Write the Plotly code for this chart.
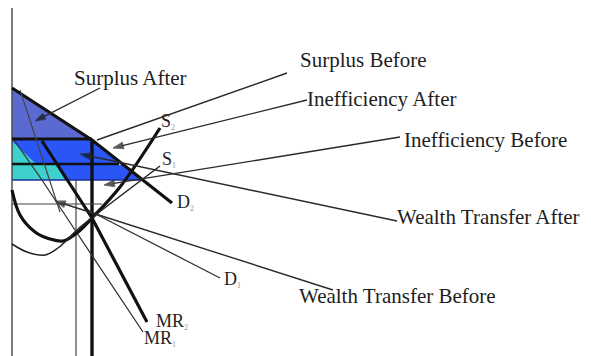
import plotly.graph_objects as go

# Diagram coordinates in pixels
# (x to the right, y downward; the y axis is reversed below).

W, H = 591, 356
PAGE_PAD = 8  # body margin of the html page

# shaded areas
SURPLUS_AFTER_X = [12, 12, 89]
SURPLUS_AFTER_Y = [88, 138, 138]
BAND1_BLUE_X = [12, 92, 121, 12]
BAND1_BLUE_Y = [140, 140, 163, 163]
BAND1_CYAN_X = [12, 35, 12]
BAND1_CYAN_Y = [141, 163, 163]
BAND2_BLUE_X = [12, 124, 142, 12]
BAND2_BLUE_Y = [165, 165, 180, 180]
BAND2_CYAN_X = [12, 56, 65, 12]
BAND2_CYAN_Y = [165, 165, 180, 180]

# curves
D2_X = [12, 92, 172]
D2_Y = [88, 140, 203]
D1_X = [84, 220]
D1_Y = [208, 278]
MR2_X = [42, 92, 147]
MR2_Y = [141, 218, 322]
MR1_X = [14, 42, 75, 143]
MR1_Y = [140, 180, 230, 332]
S2_X = [12, 20, 35, 50, 63, 78, 92, 120, 160]
S2_Y = [190, 215, 232, 239, 241, 232, 218, 187, 128]
S1_X = [12, 27, 45, 58, 77, 93, 160]
S1_Y = [244, 252, 255, 248, 230, 217, 166]
EXTRA_X = [20, 53, 60]
EXTRA_Y = [90, 190, 212]

# straight guide lines: (x0, y0, x1, y1, width)
GUIDES = [
    (12, 0, 12, 356, 1.4),      # price axis
    (92, 139, 92, 356, 3.4),    # quantity after
    (76, 180, 76, 356, 1.2),    # quantity before
    (12, 139, 92, 139, 3.2),    # price after
    (12, 164, 119, 164, 2.6),   # price before
    (12, 204, 102, 204, 1.2),   # cost line
]

# pointer lines from the labels (start at label, end at area)
POINTER_NAMES = ["Surplus After", "Surplus Before", "Inefficiency After",
                 "Inefficiency Before", "Wealth Transfer After", "Wealth Transfer Before"]
POINTER_X0 = [100, 287, 307, 400, 397, 333]
POINTER_Y0 = [88, 73, 100, 137, 221, 290]
POINTER_X1 = [35, 97, 113, 104, 80, 55]
POINTER_Y1 = [121, 140, 148, 185, 154, 201]
POINTER_HEAD = [True, False, True, True, True, True]

# text
LABELS = ["Surplus After", "Surplus Before", "Inefficiency After",
          "Inefficiency Before", "Wealth Transfer After", "Wealth Transfer Before"]
LABEL_X = [74, 300, 307, 404, 397, 299]
LABEL_Y = [80, 62, 101, 142, 219, 298]

CURVE_LABELS = ["S", "S", "D", "D", "MR", "MR"]
CURVE_SUBS = ["2", "1", "2", "1", "2", "1"]
CURVE_LABEL_X = [161, 162, 177, 224, 156, 144]
CURVE_LABEL_Y = [122, 160, 203, 280, 322, 339]

SLATE = "#5a6ad2"
BLUE = "#2a56f8"
CYAN = "#3ed0cc"

fig = go.Figure()


def area(xs, ys, color):
    fig.add_trace(go.Scatter(x=xs, y=ys, fill="toself", fillcolor=color,
                             mode="lines", line=dict(width=0), hoverinfo="skip"))


def curve(xs, ys, width, color="#111", shape="linear"):
    fig.add_trace(go.Scatter(x=xs, y=ys, mode="lines",
                             line=dict(color=color, width=width, shape=shape),
                             hoverinfo="skip"))


area(SURPLUS_AFTER_X, SURPLUS_AFTER_Y, SLATE)
area(BAND1_BLUE_X, BAND1_BLUE_Y, BLUE)
area(BAND1_CYAN_X, BAND1_CYAN_Y, CYAN)
area(BAND2_BLUE_X, BAND2_BLUE_Y, BLUE)
area(BAND2_CYAN_X, BAND2_CYAN_Y, CYAN)
curve([12, 142], [180, 180], 1.5, "#1d2f9a")

for x0, y0, x1, y1, w in GUIDES:
    curve([x0, x1], [y0, y1], w, "#111" if w > 2 else "#444")

curve(D2_X, D2_Y, 3.2)
curve(D1_X, D1_Y, 1.3, "#333")
curve(MR2_X, MR2_Y, 3.2)
curve(MR1_X, MR1_Y, 1.3, "#333")
curve(S2_X, S2_Y, 3.2, shape="spline")
curve(S1_X, S1_Y, 1.5, "#222", shape="spline")
curve(EXTRA_X, EXTRA_Y, 1.2, "#444")

for x0, y0, x1, y1, head in zip(POINTER_X0, POINTER_Y0, POINTER_X1, POINTER_Y1, POINTER_HEAD):
    fig.add_trace(go.Scatter(
        x=[x0, x1], y=[y0, y1], mode="lines+markers",
        line=dict(color="#2a2a2a", width=1.4),
        marker=dict(symbol="arrow", angleref="previous", color="#111",
                    size=[0, 11 if head else 0]),
        hoverinfo="skip"))

fig.add_trace(go.Scatter(
    x=LABEL_X, y=LABEL_Y, mode="text", text=LABELS, textposition="middle right",
    textfont=dict(family="Liberation Serif", size=21, color="#1e1e1e"),
    hoverinfo="skip"))

curve_text = [f"{t}<sub><span style='font-size:8px;color:#999'>{s}</span></sub>"
              for t, s in zip(CURVE_LABELS, CURVE_SUBS)]
fig.add_trace(go.Scatter(
    x=CURVE_LABEL_X, y=CURVE_LABEL_Y, mode="text", text=curve_text,
    textposition="middle right",
    textfont=dict(family="Liberation Serif", size=18, color="#1e1e1e"),
    hoverinfo="skip"))

# the page has an 8px body margin, so the figure is sized to fit what is
# left of the window and the axes start at that offset
fig.update_layout(
    width=W - PAGE_PAD, height=H - PAGE_PAD,
    margin=dict(l=0, r=0, t=0, b=0),
    showlegend=False,
    plot_bgcolor="white", paper_bgcolor="white",
)
fig.update_xaxes(range=[PAGE_PAD, W], visible=False)
fig.update_yaxes(range=[H, PAGE_PAD], visible=False)

fig.write_html("out.html")
